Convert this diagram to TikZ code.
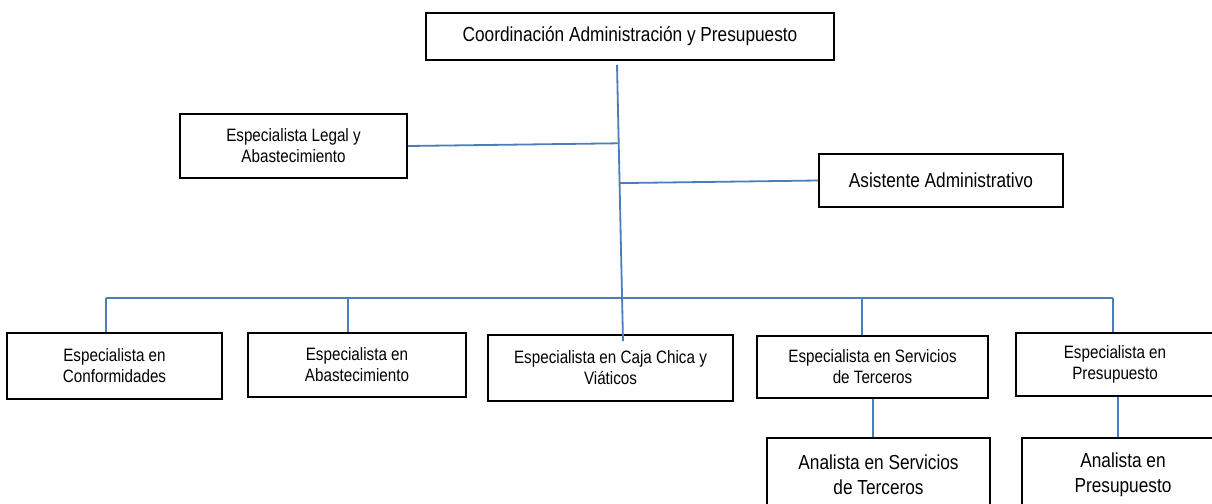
\documentclass[tikz,border=0pt]{standalone}
\usepackage{fontspec}
\setmainfont{Liberation Sans}
\newfontfamily\narrowsans{Liberation Sans}[FakeStretch=0.85]
\usetikzlibrary{calc}
\definecolor{linkblue}{RGB}{74,126,187}
\begin{document}
\begin{tikzpicture}[x=1pt,y=-1pt,
  box/.style={draw=black, line width=1.6pt, fill=white, inner sep=0pt, align=center, anchor=center},
  big/.style={box, font=\narrowsans\fontsize{20.3}{25}\selectfont},
  small/.style={box, font=\narrowsans\fontsize{17.9}{21}\selectfont},
  link/.style={draw=linkblue, line width=1.8pt}]
\useasboundingbox (0,0) rectangle (1212,503);

\node[big, minimum width=408pt, minimum height=47pt] (top) at (630,36.5) {Coordinación Administración y Presupuesto};
\node[small, minimum width=227pt, minimum height=64pt] (legal) at (293.5,146) {Especialista Legal y\\Abastecimiento};
\node[big, minimum width=244pt, minimum height=53pt] (asis) at (941,180.5) {Asistente Administrativo};
\node[small, minimum width=215pt, minimum height=66pt] (conf) at (114.5,366) {Especialista en\\Conformidades};
\node[small, minimum width=218pt, minimum height=64pt] (abas) at (357,365) {Especialista en\\Abastecimiento};
\node[small, minimum width=245pt, minimum height=66pt] (caja) at (610.5,368) {Especialista en Caja Chica y\\Viáticos};
\node[small, minimum width=231pt, minimum height=62pt] (serv) at (872.5,367) {Especialista en Servicios\\de Terceros};
\node[small, minimum width=198pt, minimum height=63pt] (pres) at (1115,364.5) {Especialista en\\Presupuesto};
\node[big, minimum width=223pt, minimum height=74pt] (anser) at (878.5,475) {Analista en Servicios\\de Terceros};
\node[big, minimum width=202pt, minimum height=74pt] (anpre) at (1123,475) {Analista en\\Presupuesto};

% trunk
\coordinate (tA) at ($(top.south)+(-13,4)$);
\coordinate (tB) at ($(caja.north)+(12.5,7)$);
\draw[link] (tA) -- (tB);
\coordinate (jL) at ($(tA)!0.284!(tB)$);
\coordinate (jA) at ($(tA)!0.428!(tB)$);
\draw[link] (legal.east) -- (jL);
\draw[link] (jA) -- (asis.west);

% bus
\coordinate (busL) at ($(conf.north)+(-8.5,-34)$);
\coordinate (busR) at ($(pres.north)+(-2,-34)$);
\draw[link] (busL) -- (busR);
\draw[link] (busL) -- (busL |- conf.north);
\draw[link] ($(abas.north)+(-9,0)$) -- (busL -| {$(abas.north)+(-9,0)$});
\draw[link] ($(serv.north)+(-10.5,0)$) -- (busL -| {$(serv.north)+(-10.5,0)$});
\draw[link] (busR) -- (busR |- pres.north);

% lower level
\coordinate (sS) at ($(serv.south)+(0.5,0)$);
\draw[link] (sS) -- (sS |- anser.north);
\coordinate (pS) at ($(pres.south)+(3,0)$);
\draw[link] (pS) -- (pS |- anpre.north);
\end{tikzpicture}
\end{document}
